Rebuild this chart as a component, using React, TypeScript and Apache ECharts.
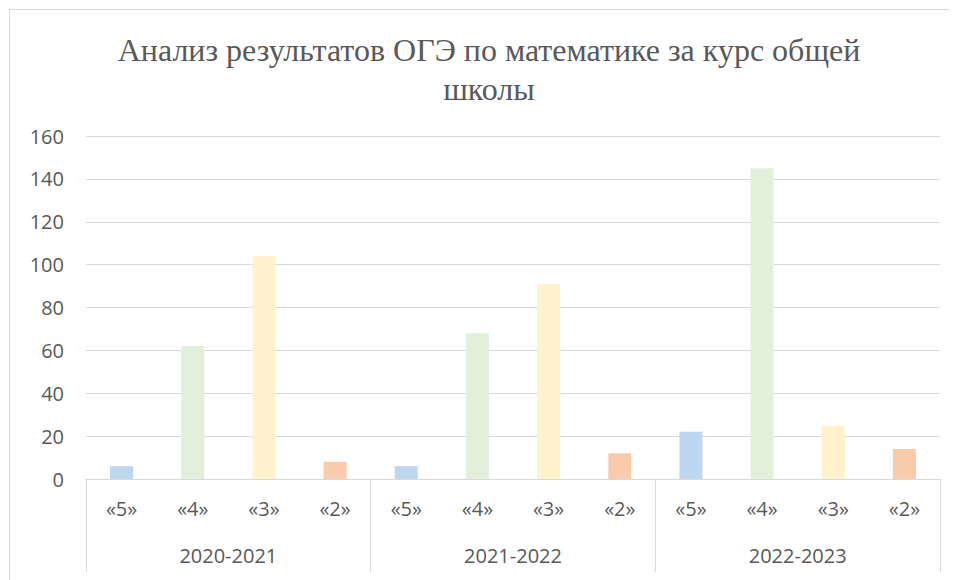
import React, { useEffect, useRef } from "react";
import * as echarts from "echarts";

const years = ["2020-2021", "2021-2022", "2022-2023"];
const grades = ["«5»", "«4»", "«3»", "«2»"];
const values2021 = [6, 62, 104, 8];
const values2022 = [6, 68, 91, 12];
const values2023 = [22, 145, 25, 14];
const gradeColors = ["#BDD7EE", "#E2EFDA", "#FFF2CC", "#F8CBAD"];
const yTicks = { min: 0, max: 160, interval: 20 };

export default function App() {
  const ref = useRef<HTMLDivElement>(null);
  useEffect(() => {
    if (!ref.current) return;
    const chart = echarts.init(ref.current, undefined, { renderer: "svg" });
    const allValues = [values2021, values2022, values2023];
    const categories: string[] = [];
    const data: any[] = [];
    allValues.forEach((vals) => {
      vals.forEach((v, i) => {
        categories.push(grades[i]);
        data.push({ value: v, itemStyle: { color: gradeColors[i] } });
      });
    });
    const labelFont = "'Open Sans', 'Noto Sans', sans-serif";
    chart.setOption({
      animation: false,
      title: {
        text: "Анализ результатов ОГЭ по математике за курс общей\nшколы",
        left: 476,
        top: 17,
        textAlign: "center",
        textStyle: {
          fontFamily: "Liberation Serif",
          fontSize: 32,
          fontWeight: "normal",
          color: "#595959",
          lineHeight: 39,
        },
      },
      graphic: [
        {
          type: "rect",
          shape: { x: 1.5, y: 1.5, width: 947, height: 700 },
          style: { fill: "none", stroke: "#d9d9d9", lineWidth: 1 },
          silent: true,
        },
      ],
      grid: { left: 78, right: 17, top: 128, bottom: 101 },
      xAxis: [
        {
          type: "category",
          data: categories,
          axisLine: { lineStyle: { color: "#d9d9d9", width: 1 } },
          axisTick: { show: false },
          axisLabel: {
            color: "#595959",
            fontSize: 20,
            fontFamily: labelFont,
            margin: 19,
            interval: 0,
          },
        },
        {
          type: "category",
          data: years,
          position: "bottom",
          axisLine: { show: false },
          axisTick: {
            show: true,
            length: 93,
            lineStyle: { color: "#d9d9d9", width: 1 },
          },
          axisLabel: {
            color: "#595959",
            fontSize: 20,
            fontFamily: labelFont,
            margin: 66,
            interval: 0,
          },
        },
      ],
      yAxis: {
        type: "value",
        min: yTicks.min,
        max: yTicks.max,
        interval: yTicks.interval,
        axisLine: { show: false },
        axisTick: { show: false },
        splitLine: { lineStyle: { color: "#d9d9d9", width: 1 } },
        axisLabel: {
          color: "#595959",
          fontSize: 20,
          fontFamily: labelFont,
          margin: 22,
        },
      },
      series: [
        {
          type: "bar",
          xAxisIndex: 0,
          data,
          barWidth: 23,
        },
      ],
    });
    return () => chart.dispose();
  }, []);
  return <div ref={ref} style={{ width: 949, height: 572 }} />;
}
